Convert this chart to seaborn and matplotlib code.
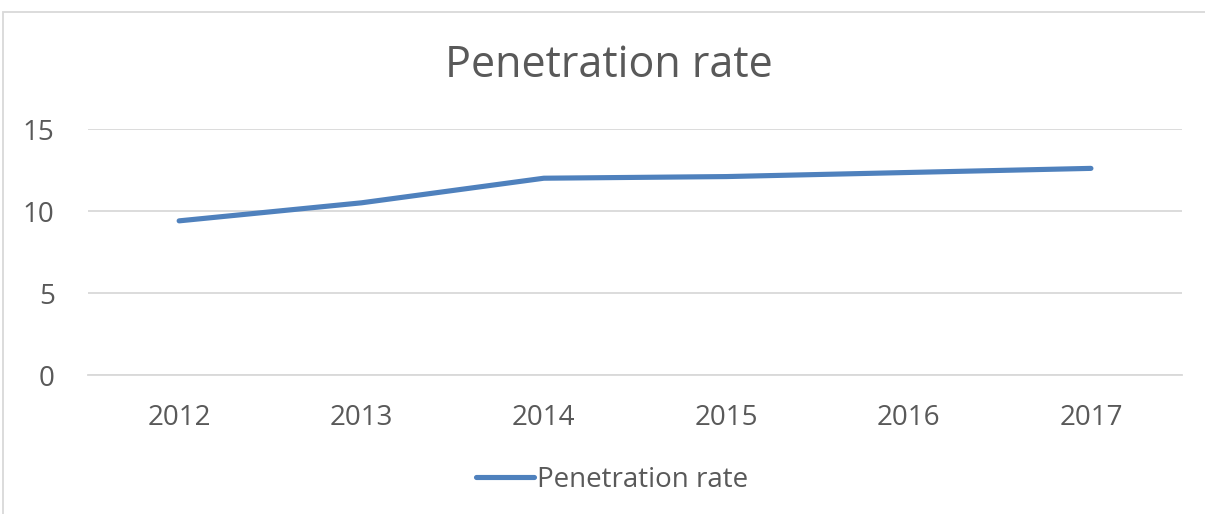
import pandas as pd
import matplotlib.pyplot as plt
import matplotlib.patches as mpatches
import seaborn as sns

years = [2012, 2013, 2014, 2015, 2016, 2017]
penetration_rate = [9.4, 10.5, 12.0, 12.1, 12.35, 12.6]
y_ticks = [0, 5, 10, 15]

sns.set_style("white")
plt.rcParams['font.family'] = ['Open Sans', 'DejaVu Sans']

text_col = '#595959'
grid_col = '#D9D9D9'
line_col = '#4F81BD'

df = pd.DataFrame({'year': years, 'value': penetration_rate, 'series': 'Penetration rate'})

fig = plt.figure(figsize=(12.05, 5.14), dpi=100)
ax = fig.add_axes([0.073, 0.2704, 0.908, 0.4786])

sns.lineplot(data=df, x='year', y='value', hue='series', palette=[line_col],
             linewidth=3.7, ax=ax, legend=False, solid_capstyle='round')

ax.set_xlim(years[0] - 0.5, years[-1] + 0.5)
ax.set_ylim(0, 15)
ax.set_xticks(years)
ax.set_xticklabels([str(y) for y in years])
ax.set_yticks(y_ticks)
ax.yaxis.grid(True, color=grid_col, linewidth=1.3)
ax.xaxis.grid(False)
for s in ['top', 'right', 'left']:
    ax.spines[s].set_visible(False)
ax.spines['bottom'].set_color(grid_col)
ax.spines['bottom'].set_linewidth(1.3)
ax.tick_params(axis='both', length=0, labelsize=20, colors=text_col)
ax.tick_params(axis='x', pad=21)
ax.tick_params(axis='y', pad=24)
ax.set_xlabel('')
ax.set_ylabel('')

fig.text(0.505, 0.873, 'Penetration rate', ha='center', va='center', fontsize=31, color=text_col)

handle = plt.Line2D([], [], color=line_col, linewidth=3.7, solid_capstyle='round')
fig.legend([handle], ['Penetration rate'], loc='center', bbox_to_anchor=(0.508, 0.066),
           frameon=False, fontsize=20, handlelength=2.1, handletextpad=0.1,
           labelcolor=text_col)

# outer chart frame
fig.patches.append(mpatches.Rectangle((3 / 1205, -0.05), 1.2, 1 - 12 / 514 + 0.05,
                                      transform=fig.transFigure, fill=False,
                                      edgecolor='#D9D9D9', linewidth=1.3))

fig.savefig('out.png', dpi=100)
